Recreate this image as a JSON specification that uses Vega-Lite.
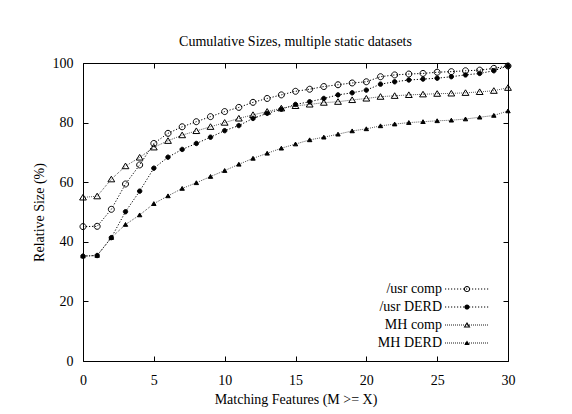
{
  "$schema": "https://vega.github.io/schema/vega-lite/v6.json",
  "width": 425,
  "height": 298,
  "autosize": {"type": "none"},
  "padding": {"left": 83, "top": 63, "right": 64, "bottom": 53},
  "background": "white",
  "title": {"text": "Cumulative Sizes, multiple static datasets", "font": "Liberation Serif", "fontSize": 14, "fontWeight": "normal", "color": "black", "anchor": "middle", "offset": 7},
  "config": {
    "view": {"stroke": "black", "strokeWidth": 1},
    "font": "Liberation Serif",
    "axis": {"domain": false, "grid": false, "ticks": true, "tickSize": -5, "tickColor": "black", "tickWidth": 1, "labelFont": "Liberation Serif", "labelFontSize": 14, "labelColor": "black", "labelFlush": false, "labelOverlap": false, "titleFont": "Liberation Serif", "titleFontSize": 14, "titleFontWeight": "normal", "titleColor": "black"}
  },
  "data": {"values": [
    {"x":0,"series":"/usr comp","y":45.1},{"x":1,"series":"/usr comp","y":45.2},{"x":2,"series":"/usr comp","y":50.9},{"x":3,"series":"/usr comp","y":59.4},{"x":4,"series":"/usr comp","y":65.8},{"x":5,"series":"/usr comp","y":73.0},{"x":6,"series":"/usr comp","y":76.4},{"x":7,"series":"/usr comp","y":78.6},{"x":8,"series":"/usr comp","y":80.3},{"x":9,"series":"/usr comp","y":82.0},{"x":10,"series":"/usr comp","y":83.7},{"x":11,"series":"/usr comp","y":85.1},{"x":12,"series":"/usr comp","y":86.8},{"x":13,"series":"/usr comp","y":88.1},{"x":14,"series":"/usr comp","y":89.3},{"x":15,"series":"/usr comp","y":90.5},{"x":16,"series":"/usr comp","y":91.2},{"x":17,"series":"/usr comp","y":92.1},{"x":18,"series":"/usr comp","y":92.7},{"x":19,"series":"/usr comp","y":93.3},{"x":20,"series":"/usr comp","y":93.7},{"x":21,"series":"/usr comp","y":95.4},{"x":22,"series":"/usr comp","y":96.0},{"x":23,"series":"/usr comp","y":96.3},{"x":24,"series":"/usr comp","y":96.5},{"x":25,"series":"/usr comp","y":96.9},{"x":26,"series":"/usr comp","y":97.1},{"x":27,"series":"/usr comp","y":97.4},{"x":28,"series":"/usr comp","y":97.6},{"x":29,"series":"/usr comp","y":98.2},{"x":30,"series":"/usr comp","y":99.0},
    {"x":0,"series":"/usr DERD","y":35.2},{"x":1,"series":"/usr DERD","y":35.4},{"x":2,"series":"/usr DERD","y":41.4},{"x":3,"series":"/usr DERD","y":50.1},{"x":4,"series":"/usr DERD","y":57.0},{"x":5,"series":"/usr DERD","y":64.7},{"x":6,"series":"/usr DERD","y":68.4},{"x":7,"series":"/usr DERD","y":71.0},{"x":8,"series":"/usr DERD","y":73.0},{"x":9,"series":"/usr DERD","y":75.1},{"x":10,"series":"/usr DERD","y":77.3},{"x":11,"series":"/usr DERD","y":79.0},{"x":12,"series":"/usr DERD","y":81.4},{"x":13,"series":"/usr DERD","y":83.1},{"x":14,"series":"/usr DERD","y":84.5},{"x":15,"series":"/usr DERD","y":86.1},{"x":16,"series":"/usr DERD","y":87.0},{"x":17,"series":"/usr DERD","y":88.1},{"x":18,"series":"/usr DERD","y":89.3},{"x":19,"series":"/usr DERD","y":90.0},{"x":20,"series":"/usr DERD","y":90.9},{"x":21,"series":"/usr DERD","y":92.9},{"x":22,"series":"/usr DERD","y":93.7},{"x":23,"series":"/usr DERD","y":94.3},{"x":24,"series":"/usr DERD","y":94.6},{"x":25,"series":"/usr DERD","y":94.9},{"x":26,"series":"/usr DERD","y":95.4},{"x":27,"series":"/usr DERD","y":96.0},{"x":28,"series":"/usr DERD","y":96.5},{"x":29,"series":"/usr DERD","y":97.4},{"x":30,"series":"/usr DERD","y":99.0},
    {"x":0,"series":"MH comp","y":54.9},{"x":1,"series":"MH comp","y":55.3},{"x":2,"series":"MH comp","y":61.0},{"x":3,"series":"MH comp","y":65.4},{"x":4,"series":"MH comp","y":68.3},{"x":5,"series":"MH comp","y":71.7},{"x":6,"series":"MH comp","y":73.9},{"x":7,"series":"MH comp","y":75.8},{"x":8,"series":"MH comp","y":77.2},{"x":9,"series":"MH comp","y":78.6},{"x":10,"series":"MH comp","y":80.0},{"x":11,"series":"MH comp","y":81.4},{"x":12,"series":"MH comp","y":82.6},{"x":13,"series":"MH comp","y":83.7},{"x":14,"series":"MH comp","y":84.8},{"x":15,"series":"MH comp","y":85.6},{"x":16,"series":"MH comp","y":86.1},{"x":17,"series":"MH comp","y":86.7},{"x":18,"series":"MH comp","y":87.0},{"x":19,"series":"MH comp","y":87.6},{"x":20,"series":"MH comp","y":88.1},{"x":21,"series":"MH comp","y":88.7},{"x":22,"series":"MH comp","y":89.0},{"x":23,"series":"MH comp","y":89.3},{"x":24,"series":"MH comp","y":89.5},{"x":25,"series":"MH comp","y":89.7},{"x":26,"series":"MH comp","y":89.8},{"x":27,"series":"MH comp","y":90.0},{"x":28,"series":"MH comp","y":90.3},{"x":29,"series":"MH comp","y":90.7},{"x":30,"series":"MH comp","y":91.7},
    {"x":0,"series":"MH DERD","y":35.2},{"x":1,"series":"MH DERD","y":35.4},{"x":2,"series":"MH DERD","y":41.4},{"x":3,"series":"MH DERD","y":45.8},{"x":4,"series":"MH DERD","y":49.0},{"x":5,"series":"MH DERD","y":52.8},{"x":6,"series":"MH DERD","y":55.4},{"x":7,"series":"MH DERD","y":57.9},{"x":8,"series":"MH DERD","y":59.8},{"x":9,"series":"MH DERD","y":61.9},{"x":10,"series":"MH DERD","y":63.9},{"x":11,"series":"MH DERD","y":66.0},{"x":12,"series":"MH DERD","y":68.0},{"x":13,"series":"MH DERD","y":69.7},{"x":14,"series":"MH DERD","y":71.4},{"x":15,"series":"MH DERD","y":72.8},{"x":16,"series":"MH DERD","y":74.2},{"x":17,"series":"MH DERD","y":75.1},{"x":18,"series":"MH DERD","y":76.1},{"x":19,"series":"MH DERD","y":77.2},{"x":20,"series":"MH DERD","y":77.9},{"x":21,"series":"MH DERD","y":78.9},{"x":22,"series":"MH DERD","y":79.5},{"x":23,"series":"MH DERD","y":80.0},{"x":24,"series":"MH DERD","y":80.3},{"x":25,"series":"MH DERD","y":80.6},{"x":26,"series":"MH DERD","y":80.8},{"x":27,"series":"MH DERD","y":81.2},{"x":28,"series":"MH DERD","y":81.8},{"x":29,"series":"MH DERD","y":82.4},{"x":30,"series":"MH DERD","y":83.9}
  ]},
  "layer": [
    {
      "mark": {"type": "line", "strokeWidth": 1},
      "encoding": {
        "x": {"field": "x", "type": "quantitative", "scale": {"domain": [0, 30], "nice": false}, "axis": {"orient": "bottom", "values": [0, 5, 10, 15, 20, 25, 30], "title": "Matching Features (M >= X)", "labelPadding": 17, "titlePadding": 5}},
        "y": {"field": "y", "type": "quantitative", "scale": {"domain": [0, 100], "nice": false}, "axis": {"orient": "left", "values": [0, 20, 40, 60, 80, 100], "title": "Relative Size (%)", "labelPadding": 15, "titlePadding": 6}},
        "color": {"field": "series", "type": "nominal", "scale": {"domain": ["/usr comp", "/usr DERD", "MH comp", "MH DERD"], "range": ["black", "black", "#333333", "#333333"]}, "legend": null},
        "strokeDash": {"field": "series", "type": "nominal", "scale": {"domain": ["/usr comp", "/usr DERD", "MH comp", "MH DERD"], "range": [[1.2, 1.8], [1.2, 1.8], [0.8, 1.2], [0.8, 1.2]]}, "legend": null}
      }
    },
    {
      "mark": {"type": "point", "filled": true, "size": 64, "stroke": "black", "strokeWidth": 1, "opacity": 1},
      "encoding": {
        "x": {"field": "x", "type": "quantitative", "axis": {"orient": "top", "values": [0, 5, 10, 15, 20, 25, 30], "labels": false, "title": null}},
        "y": {"field": "y", "type": "quantitative", "axis": {"orient": "right", "values": [0, 20, 40, 60, 80, 100], "labels": false, "title": null}},
        "shape": {"field": "series", "type": "nominal", "scale": {"domain": ["/usr comp", "/usr DERD", "MH comp", "MH DERD"], "range": ["M0.75,0A0.75,0.75,0,1,1,-0.75,0A0.75,0.75,0,1,1,0.75,0Z", "M0.55,0A0.55,0.55,0,1,1,-0.55,0A0.55,0.55,0,1,1,0.55,0Z", "M0,-0.75L0.85,0.65L-0.85,0.65Z", "M0,-0.5L0.55,0.45L-0.55,0.45Z"]}, "legend": null},
        "fill": {"field": "series", "type": "nominal", "scale": {"domain": ["/usr comp", "/usr DERD", "MH comp", "MH DERD"], "range": ["transparent", "black", "transparent", "black"]}, "legend": null}
      }
    },
    {
      "mark": {"type": "point", "filled": true, "size": 16, "fill": "black", "strokeWidth": 0, "opacity": 0},
      "encoding": {
        "x": {"field": "x", "type": "quantitative", "axis": null},
        "y": {"field": "y", "type": "quantitative", "axis": null},
        "shape": {"field": "series", "type": "nominal",
          "scale": {"domain": ["/usr comp", "/usr DERD", "MH comp", "MH DERD"], "range": [
            "M-11,-0.25h0.6v0.5h-0.6ZM-9.5,-0.25h0.6v0.5h-0.6ZM-8,-0.25h0.6v0.5h-0.6ZM-6.5,-0.25h0.6v0.5h-0.6ZM-5,-0.25h0.6v0.5h-0.6ZM-3.5,-0.25h0.6v0.5h-0.6ZM-2,-0.25h0.6v0.5h-0.6ZM-0.5,-0.25h0.6v0.5h-0.6ZM1,-0.25h0.6v0.5h-0.6ZM2.5,-0.25h0.6v0.5h-0.6ZM4,-0.25h0.6v0.5h-0.6ZM5.5,-0.25h0.6v0.5h-0.6ZM7,-0.25h0.6v0.5h-0.6ZM8.5,-0.25h0.6v0.5h-0.6ZM10,-0.25h0.6v0.5h-0.6ZM1.55,0A1.55,1.55,0,1,1,-1.55,0A1.55,1.55,0,1,1,1.55,0ZM1.05,0A1.05,1.05,0,1,0,-1.05,0A1.05,1.05,0,1,0,1.05,0Z",
            "M-11,-0.25h0.6v0.5h-0.6ZM-9.5,-0.25h0.6v0.5h-0.6ZM-8,-0.25h0.6v0.5h-0.6ZM-6.5,-0.25h0.6v0.5h-0.6ZM-5,-0.25h0.6v0.5h-0.6ZM-3.5,-0.25h0.6v0.5h-0.6ZM-2,-0.25h0.6v0.5h-0.6ZM-0.5,-0.25h0.6v0.5h-0.6ZM1,-0.25h0.6v0.5h-0.6ZM2.5,-0.25h0.6v0.5h-0.6ZM4,-0.25h0.6v0.5h-0.6ZM5.5,-0.25h0.6v0.5h-0.6ZM7,-0.25h0.6v0.5h-0.6ZM8.5,-0.25h0.6v0.5h-0.6ZM10,-0.25h0.6v0.5h-0.6ZM1.3,0A1.3,1.3,0,1,1,-1.3,0A1.3,1.3,0,1,1,1.3,0Z",
            "M-11,-0.25h0.45v0.5h-0.45ZM-10,-0.25h0.45v0.5h-0.45ZM-9,-0.25h0.45v0.5h-0.45ZM-8,-0.25h0.45v0.5h-0.45ZM-7,-0.25h0.45v0.5h-0.45ZM-6,-0.25h0.45v0.5h-0.45ZM-5,-0.25h0.45v0.5h-0.45ZM-4,-0.25h0.45v0.5h-0.45ZM-3,-0.25h0.45v0.5h-0.45ZM-2,-0.25h0.45v0.5h-0.45ZM-1,-0.25h0.45v0.5h-0.45ZM0,-0.25h0.45v0.5h-0.45ZM1,-0.25h0.45v0.5h-0.45ZM2,-0.25h0.45v0.5h-0.45ZM3,-0.25h0.45v0.5h-0.45ZM4,-0.25h0.45v0.5h-0.45ZM5,-0.25h0.45v0.5h-0.45ZM6,-0.25h0.45v0.5h-0.45ZM7,-0.25h0.45v0.5h-0.45ZM8,-0.25h0.45v0.5h-0.45ZM9,-0.25h0.45v0.5h-0.45ZM10,-0.25h0.45v0.5h-0.45ZM0,-1.5L1.7,1.3L-1.7,1.3ZM0,-0.54L-0.81,0.8L0.81,0.8Z",
            "M-11,-0.25h0.45v0.5h-0.45ZM-10,-0.25h0.45v0.5h-0.45ZM-9,-0.25h0.45v0.5h-0.45ZM-8,-0.25h0.45v0.5h-0.45ZM-7,-0.25h0.45v0.5h-0.45ZM-6,-0.25h0.45v0.5h-0.45ZM-5,-0.25h0.45v0.5h-0.45ZM-4,-0.25h0.45v0.5h-0.45ZM-3,-0.25h0.45v0.5h-0.45ZM-2,-0.25h0.45v0.5h-0.45ZM-1,-0.25h0.45v0.5h-0.45ZM0,-0.25h0.45v0.5h-0.45ZM1,-0.25h0.45v0.5h-0.45ZM2,-0.25h0.45v0.5h-0.45ZM3,-0.25h0.45v0.5h-0.45ZM4,-0.25h0.45v0.5h-0.45ZM5,-0.25h0.45v0.5h-0.45ZM6,-0.25h0.45v0.5h-0.45ZM7,-0.25h0.45v0.5h-0.45ZM8,-0.25h0.45v0.5h-0.45ZM9,-0.25h0.45v0.5h-0.45ZM10,-0.25h0.45v0.5h-0.45ZM0,-1.2L1.35,1.0L-1.35,1.0Z"
          ]},
          "legend": {"title": null, "orient": "none", "legendX": 377, "legendY": 219, "symbolSize": 16, "symbolOpacity": 1, "symbolFillColor": "black", "symbolStrokeWidth": 0, "labelAlign": "right", "labelOffset": -32, "labelFont": "Liberation Serif", "labelFontSize": 14, "labelColor": "black", "labelLimit": 300, "rowPadding": 4, "padding": 0}
        }
      }
    }
  ],
  "resolve": {"scale": {"shape": "independent"}, "axis": {"x": "independent", "y": "independent"}}
}
